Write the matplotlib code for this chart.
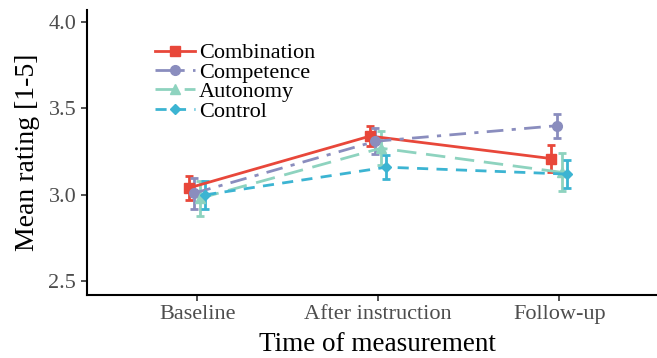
import numpy as np
import matplotlib
matplotlib.use("Agg")
import matplotlib.pyplot as plt

plt.rcParams["font.family"] = ["Liberation Serif", "DejaVu Serif"]

# Data
times = ["Baseline", "After instruction", "Follow-up"]
groups = ["Combination", "Competence", "Autonomy", "Control"]
combination = [3.04, 3.34, 3.21]
combination_err = [0.07, 0.06, 0.08]
competence = [3.01, 3.31, 3.40]
competence_err = [0.09, 0.075, 0.07]
autonomy = [2.98, 3.27, 3.13]
autonomy_err = [0.10, 0.10, 0.11]
control = [3.00, 3.16, 3.12]
control_err = [0.08, 0.07, 0.08]

means = [combination, competence, autonomy, control]
errs = [combination_err, competence_err, autonomy_err, control_err]
colors = ["#E8473A", "#8A8DBE", "#8ED3BF", "#3CB4D2"]
markers = ["s", "o", "^", "D"]
msizes = [7, 7, 7, 5]
styles = ["-", (0, (6, 3, 1.5, 3)), (0, (7, 3.5)), (0, (4, 3))]
offsets = [-0.045, -0.015, 0.015, 0.045]

fig = plt.figure(figsize=(6.57, 3.58), dpi=100)
ax = fig.add_axes([0.132, 0.176, 0.868, 0.796])

x = np.arange(1, len(times) + 1)
handles = []
for g, m, e, c, mk, ms, ls, off in zip(groups, means, errs, colors, markers, msizes, styles, offsets):
    cont = ax.errorbar(x + off, m, yerr=e, color=c, ecolor=c, elinewidth=2, capsize=3,
                       capthick=2, linestyle=ls, linewidth=2, marker=mk, markersize=ms,
                       label=g)
    handles.append(cont[0])

ax.set_xlim(0.39, 3.54)
ax.set_ylim(2.42, 4.07)
ax.set_xticks(x)
ax.set_xticklabels(times)
ax.set_yticks([2.5, 3.0, 3.5, 4.0])
ax.set_yticklabels(["2.5", "3.0", "3.5", "4.0"])
ax.tick_params(axis="both", labelsize=16, labelcolor="#4D4D4D", color="#333333",
               length=4, width=1.2)
for s in ["top", "right"]:
    ax.spines[s].set_visible(False)
for s in ["left", "bottom"]:
    ax.spines[s].set_linewidth(1.5)

ax.set_xlabel("Time of measurement", fontsize=19.5, labelpad=2)
ax.xaxis.set_label_coords(0.51, -0.13)
ax.set_ylabel("Mean rating [1-5]", fontsize=20, labelpad=6)

ax.legend(handles, groups, loc="upper left", bbox_to_anchor=(0.119, 0.885), frameon=False,
          fontsize=16, handlelength=1.8, handletextpad=0.2, labelspacing=-0.05,
          borderpad=0, borderaxespad=0)

plt.savefig("out.png", dpi=100)
